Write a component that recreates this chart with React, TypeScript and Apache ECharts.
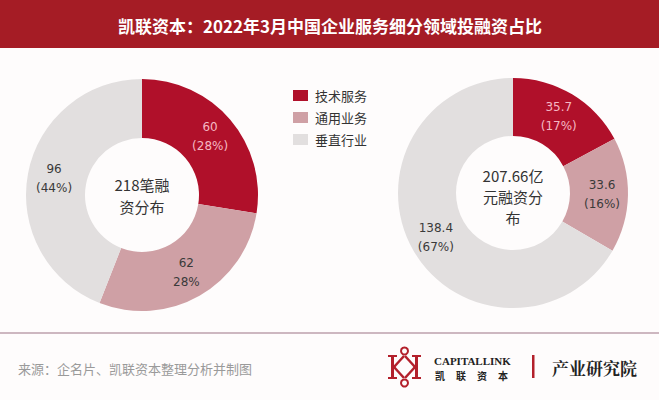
import React, { useEffect, useRef } from "react";
import * as echarts from "echarts";

const categories = ["技术服务", "通用业务", "垂直行业"];
const countValues = [60, 62, 96];
const countLabels = ["60\n(28%)", "62\n28%", "96\n(44%)"];
const amountValues = [35.7, 33.6, 138.4];
const amountLabels = ["35.7\n(17%)", "33.6\n(16%)", "138.4\n(67%)"];
const colors = ["#b0102a", "#cfa0a5", "#e2dfdf"];
const labelColors = ["#f5b8c3", "#3a3a3a", "#3a3a3a"];
const titleText = "凯联资本：2022年3月中国企业服务细分领域投融资占比";
const leftCenterText = "218笔融\n资分布";
const rightCenterText = "207.66亿\n元融资分\n布";
const sourceText = "来源：企名片、凯联资本整理分析并制图";
const logoChars = ["凯", "联", "资", "本"];

const FONT = "'Noto Sans CJK SC', 'Noto Sans', sans-serif";
const NUM_FONT = "'DejaVu Sans', 'Noto Sans CJK SC', sans-serif";

function buildData(values: number[], labels: string[]) {
  return values.map((v, i) => ({
    name: categories[i],
    value: v,
    itemStyle: { color: colors[i] },
    label: { formatter: labels[i], color: labelColors[i] },
  }));
}

export default function App() {
  const ref = useRef<HTMLDivElement>(null);
  useEffect(() => {
    if (!ref.current) return;
    const chart = echarts.init(ref.current, null, { renderer: "svg" });
    const red = "#b3202b";
    const pieCommon = {
      type: "pie",
      startAngle: 90,
      clockwise: true,
      avoidLabelOverlap: false,
      labelLine: { show: false },
      emphasis: { disabled: true },
      label: {
        show: true,
        position: "inside",
        fontSize: 12,
        lineHeight: 19,
        fontFamily: NUM_FONT,
        align: "center",
      },
    };
    chart.setOption({
      animation: false,
      backgroundColor: "#fefcfc",
      legend: {
        orient: "vertical",
        left: 288,
        top: 84,
        itemWidth: 15,
        itemHeight: 11,
        itemGap: 9,
        icon: "rect",
        data: categories,
        textStyle: { fontSize: 13, color: "#333", fontFamily: FONT, padding: [0, 0, 0, 2] },
      },
      series: [
        {
          ...pieCommon,
          name: "笔数",
          center: [142, 195],
          radius: [57, 116],
          data: buildData(countValues, countLabels),
        },
        {
          ...pieCommon,
          name: "金额",
          center: [513, 193],
          radius: [57, 115],
          data: buildData(amountValues, amountLabels),
        },
      ],
      graphic: [
        { type: "rect", shape: { x: 0, y: 0, width: 659, height: 48 }, style: { fill: "#a51c25" } },
        {
          type: "text",
          x: 330,
          y: 25,
          style: {
            text: titleText,
            fill: "#fff",
            fontSize: 17,
            fontWeight: "bold",
            fontFamily: FONT,
            align: "center",
            verticalAlign: "middle",
          },
        },
        {
          type: "text",
          x: 142,
          y: 195,
          style: {
            text: leftCenterText,
            fill: "#333",
            fontSize: 15,
            lineHeight: 22,
            fontFamily: FONT,
            align: "center",
            verticalAlign: "middle",
          },
        },
        {
          type: "text",
          x: 513,
          y: 196,
          style: {
            text: rightCenterText,
            fill: "#333",
            fontSize: 15,
            lineHeight: 21,
            fontFamily: FONT,
            align: "center",
            verticalAlign: "middle",
          },
        },
        { type: "rect", shape: { x: 0, y: 332, width: 659, height: 2 }, style: { fill: "#cdb7c0" } },
        {
          type: "text",
          x: 18,
          y: 368,
          style: { text: sourceText, fill: "#9a9a9a", fontSize: 13, fontFamily: FONT, verticalAlign: "middle" },
        },
        // logo symbol
        { type: "rect", shape: { x: 391, y: 355, width: 3, height: 24 }, style: { fill: red } },
        { type: "rect", shape: { x: 388, y: 355, width: 9, height: 2 }, style: { fill: red } },
        { type: "rect", shape: { x: 388, y: 377, width: 9, height: 2 }, style: { fill: red } },
        { type: "rect", shape: { x: 415, y: 355, width: 3, height: 24 }, style: { fill: red } },
        { type: "rect", shape: { x: 412, y: 355, width: 9, height: 2 }, style: { fill: red } },
        { type: "rect", shape: { x: 412, y: 377, width: 9, height: 2 }, style: { fill: red } },
        { type: "line", shape: { x1: 394, y1: 367, x2: 404, y2: 356 }, style: { stroke: red, lineWidth: 2.5 } },
        { type: "line", shape: { x1: 394, y1: 367, x2: 404, y2: 378 }, style: { stroke: red, lineWidth: 2.5 } },
        { type: "line", shape: { x1: 415, y1: 367, x2: 405, y2: 356 }, style: { stroke: red, lineWidth: 2.5 } },
        { type: "line", shape: { x1: 415, y1: 367, x2: 405, y2: 378 }, style: { stroke: red, lineWidth: 2.5 } },
        { type: "circle", shape: { cx: 404.5, cy: 351, r: 3.5 }, style: { fill: "none", stroke: red, lineWidth: 2 } },
        { type: "circle", shape: { cx: 404.5, cy: 383, r: 3.5 }, style: { fill: "none", stroke: red, lineWidth: 2 } },
        {
          type: "text",
          x: 434,
          y: 361,
          style: {
            text: "CAPITALLINK",
            fill: "#222",
            fontSize: 11,
            fontWeight: "bold",
            fontFamily: "'Liberation Serif', serif",
            verticalAlign: "middle",
          },
        },
        ...logoChars.map((c, i) => ({
          type: "text",
          x: 435 + i * 21,
          y: 375,
          style: {
            text: c,
            fill: "#222",
            fontSize: 10,
            fontWeight: "bold",
            fontFamily: FONT,
            verticalAlign: "middle",
          },
        })),
        { type: "rect", shape: { x: 532, y: 355, width: 2.5, height: 23 }, style: { fill: red } },
        {
          type: "text",
          x: 552,
          y: 367,
          style: {
            text: "产业研究院",
            fill: "#222",
            fontSize: 17,
            fontWeight: "bold",
            fontFamily: "'Noto Serif CJK SC', 'Noto Sans CJK SC', serif",
            verticalAlign: "middle",
          },
        },
      ],
    });
    return () => chart.dispose();
  }, []);
  return <div ref={ref} style={{ width: 659, height: 400, position: "absolute", left: 0, top: 0 }} />;
}
